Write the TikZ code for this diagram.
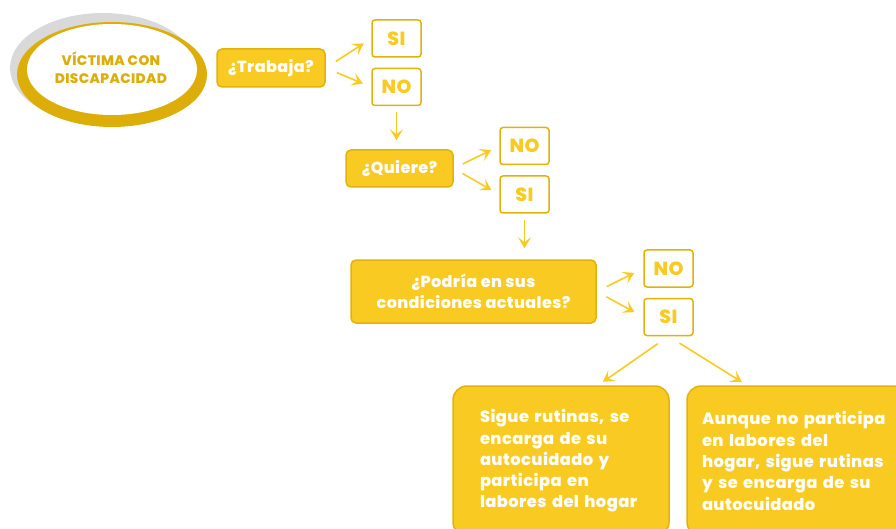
\documentclass[tikz,border=0pt]{standalone}
\usepackage{fontspec}
\setmainfont{Poppins}[BoldFont={Poppins ExtraBold}, LetterSpace=2.5]
\usetikzlibrary{arrows.meta}
\definecolor{oro}{HTML}{F9CB22}
\definecolor{orobd}{HTML}{E2B20C}
\definecolor{oroel}{HTML}{DDAE0A}
\definecolor{grisel}{HTML}{D9D9D9}
\begin{document}
\begin{tikzpicture}[x=1pt,y=-1pt,
    pregunta/.style={draw=orobd, line width=1.5pt, fill=oro, rounded corners=5pt,
      text=white, font=\bfseries\fontsize{16}{21}\selectfont, align=center, inner sep=0pt},
    resp/.style={draw=orobd, line width=1.5pt, fill=white, rounded corners=3pt,
      text=oro, font=\bfseries\fontsize{19}{20}\selectfont,
      minimum width=49pt, minimum height=37pt, inner sep=0pt},
    final/.style={draw=orobd, line width=1.5pt, fill=oro, rounded corners=14pt,
      text=white, font=\bfseries\fontsize{16.3}{21.3}\selectfont, align=left,
      minimum height=150pt, inner sep=0pt},
    flecha/.style={draw=oro, line width=1.6pt, -{Stealth[length=11pt,width=13pt,inset=5pt]}}]
  \clip (0,0) rectangle (896,529);
  % elipse de inicio
  \fill[grisel] (103,68) ellipse [x radius=93, y radius=55];
  \fill[oroel] (112,74.5) ellipse [x radius=95, y radius=52.5];
  \fill[white] (112,69.5) ellipse [x radius=85, y radius=45.5];
  \node (victima) at (111,68) [text=oroel, align=center,
    font=\bfseries\fontsize{13.8}{18}\selectfont] {VÍCTIMA CON\\DISCAPACIDAD};
  % preguntas
  \node (trabaja) at (271,68) [pregunta, minimum width=108pt, minimum height=38pt] {¿Trabaja?};
  \node (si1) at (396.5,38.5) [resp] {SI};
  \node (no1) at (396.5,87) [resp] {NO};
  \node (quiere) at (399.5,168.5) [pregunta, minimum width=107pt, minimum height=37pt] {¿Quiere?};
  \node (no2) at (524.5,146) [resp] {NO};
  \node (si2) at (524.5,194.5) [resp] {SI};
  \node (podria) at (473.5,291.5) [pregunta, minimum width=245pt, minimum height=63pt] {¿Podría en sus\\condiciones actuales?};
  \node (no3) at (668.5,268.5) [resp] {NO};
  \node (si3) at (668.5,317) [resp] {SI};
  \node (sigue) at (561,461) [final, minimum width=216pt, text width=162pt] {Sigue rutinas, se\\encarga de su\\autocuidado y\\participa en\\labores del hogar};
  \node (aunque) at (797,461) [final, minimum width=220pt, text width=190pt] {Aunque no participa\\en labores del\\hogar, sigue rutinas\\y se encarga de su\\autocuidado};
  % flechas
  \draw[flecha, shorten <=12pt, shorten >=9pt] (trabaja.east) -- (si1.west);
  \draw[flecha, shorten <=12pt, shorten >=9pt] (trabaja.east) -- (no1.west);
  \draw[flecha, shorten <=6pt, shorten >=9pt] (no1.south) -- (no1.south |- quiere.north);
  \draw[flecha, shorten <=10pt, shorten >=9pt] (quiere.east) -- (no2.west);
  \draw[flecha, shorten <=10pt, shorten >=9pt] (quiere.east) -- (si2.west);
  \draw[flecha, shorten <=6pt, shorten >=11pt] (si2.south) -- (si2.south |- podria.north);
  \draw[flecha, shorten <=11pt, shorten >=10pt] (podria.east) -- (no3.west);
  \draw[flecha, shorten <=11pt, shorten >=10pt] (podria.east) -- (si3.west);
  \draw[flecha, shorten <=13pt, shorten >=6pt] (si3.south) -- ([xshift=37pt]sigue.north);
  \draw[flecha, shorten <=13pt, shorten >=6pt] (si3.south) -- ([xshift=-50pt]aunque.north);
\end{tikzpicture}
\end{document}
